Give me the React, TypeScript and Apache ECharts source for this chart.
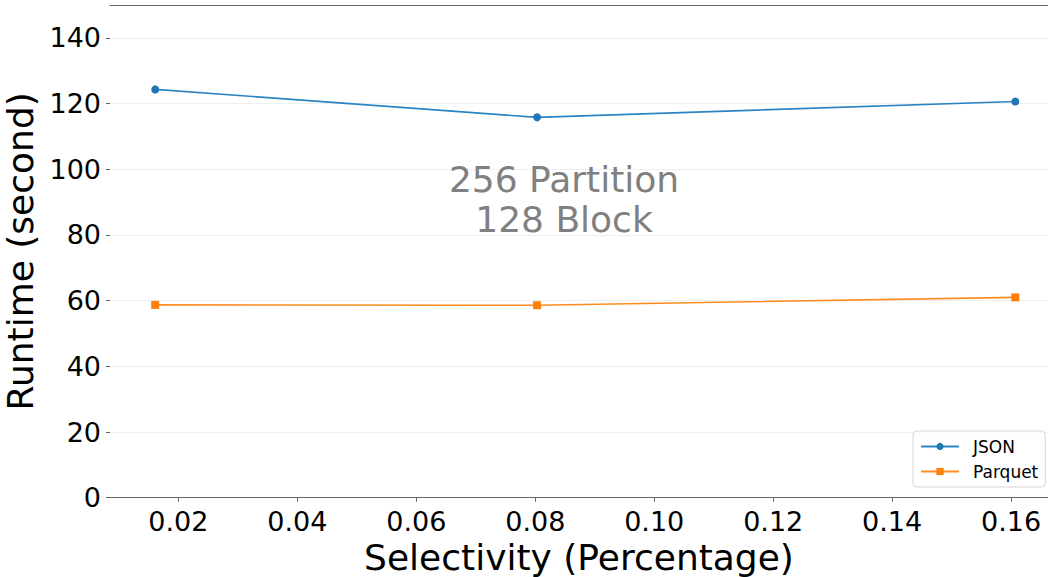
import React, { useEffect, useRef } from "react";
import * as echarts from "echarts";

const selectivity = [0.0161, 0.0803, 0.1607];
const jsonRuntime = [124.3, 115.8, 120.6];
const parquetRuntime = [58.7, 58.6, 61.0];
const xTicks = [0.02, 0.04, 0.06, 0.08, 0.1, 0.12, 0.14, 0.16];
const yTicks = [0, 20, 40, 60, 80, 100, 120, 140];
const annotation = "256 Partition\n128 Block";

const FONT = "DejaVu Sans";

export default function App() {
  const ref = useRef<HTMLDivElement>(null);
  useEffect(() => {
    if (!ref.current) return;
    const chart = echarts.init(ref.current, undefined, { renderer: "svg" });
    const toPairs = (ys: number[]) => selectivity.map((x, i) => [x, ys[i]]);
    chart.setOption({
      animation: false,
      backgroundColor: "#ffffff",
      textStyle: { fontFamily: FONT },
      grid: {
        left: 110,
        right: 0,
        top: 5,
        bottom: 79.3,
        containLabel: false,
        outerBoundsMode: "none",
      },
      xAxis: [
        {
          type: "value",
          min: 0.0085,
          max: 0.1662,
          name: "Selectivity (Percentage)",
          nameLocation: "middle",
          nameGap: 36,
          nameTextStyle: { fontSize: 36, color: "#000", fontFamily: FONT },
          axisLine: { show: true, lineStyle: { color: "#666666", width: 1.2 } },
          axisTick: {
            show: true,
            customValues: xTicks,
            length: 4,
            lineStyle: { color: "#666666", width: 1 },
          },
          axisLabel: {
            customValues: xTicks,
            formatter: (v: number) => v.toFixed(2),
            fontSize: 27,
            color: "#000",
            margin: 10,
            fontFamily: FONT,
          },
          splitLine: { show: false },
        },
        {
          type: "value",
          position: "top",
          min: 0.0085,
          max: 0.1662,
          axisLine: { show: true, onZero: false, lineStyle: { color: "#666666", width: 1.2 } },
          axisTick: { show: false },
          axisLabel: { show: false },
          splitLine: { show: false },
        },
      ],
      yAxis: {
        type: "value",
        min: 0,
        max: 150,
        interval: 20,
        name: "Runtime (second)",
        nameLocation: "middle",
        nameGap: 61,
        nameTextStyle: { fontSize: 36, color: "#000", fontFamily: FONT },
        axisLine: { show: false },
        axisTick: {
          show: true,
          customValues: yTicks,
          length: 4,
          lineStyle: { color: "#666666", width: 1 },
        },
        axisLabel: {
          customValues: yTicks,
          fontSize: 27,
          color: "#000",
          margin: 9,
          fontFamily: FONT,
        },
        splitLine: { show: true, lineStyle: { color: "#eeeeee", width: 1.2 } },
      },
      legend: {
        orient: "vertical",
        left: 913,
        top: 431,
        padding: [7, 7, 7, 7],
        itemGap: 8,
        itemWidth: 38,
        itemHeight: 9,
        backgroundColor: "rgba(255,255,255,0.85)",
        borderColor: "#d6d6d6",
        borderWidth: 1,
        borderRadius: 4,
        textStyle: { fontSize: 17, color: "#000", fontFamily: FONT, padding: [0, 0, 0, 9] },
        data: ["JSON", "Parquet"],
      },
      graphic: [
        {
          type: "text",
          x: 564,
          y: 199,
          style: {
            text: annotation,
            fontSize: 36,
            lineHeight: 40,
            fontFamily: FONT,
            fill: "#808080",
            align: "center",
            verticalAlign: "middle",
          },
          z: 10,
        },
      ],
      series: [
        {
          name: "JSON",
          type: "line",
          data: toPairs(jsonRuntime),
          symbol: "circle",
          symbolSize: 8,
          lineStyle: { color: "#2b83c2", width: 1.6 },
          itemStyle: { color: "#1f77b4" },
        },
        {
          name: "Parquet",
          type: "line",
          data: toPairs(parquetRuntime),
          symbol: "rect",
          symbolSize: 8,
          lineStyle: { color: "#ff8a1f", width: 1.6 },
          itemStyle: { color: "#ff7f0e" },
        },
      ],
    });
    return () => chart.dispose();
  }, []);
  return (
    <div
      ref={ref}
      style={{ position: "fixed", left: 0, top: 0, width: 1048, height: 577 }}
    />
  );
}
